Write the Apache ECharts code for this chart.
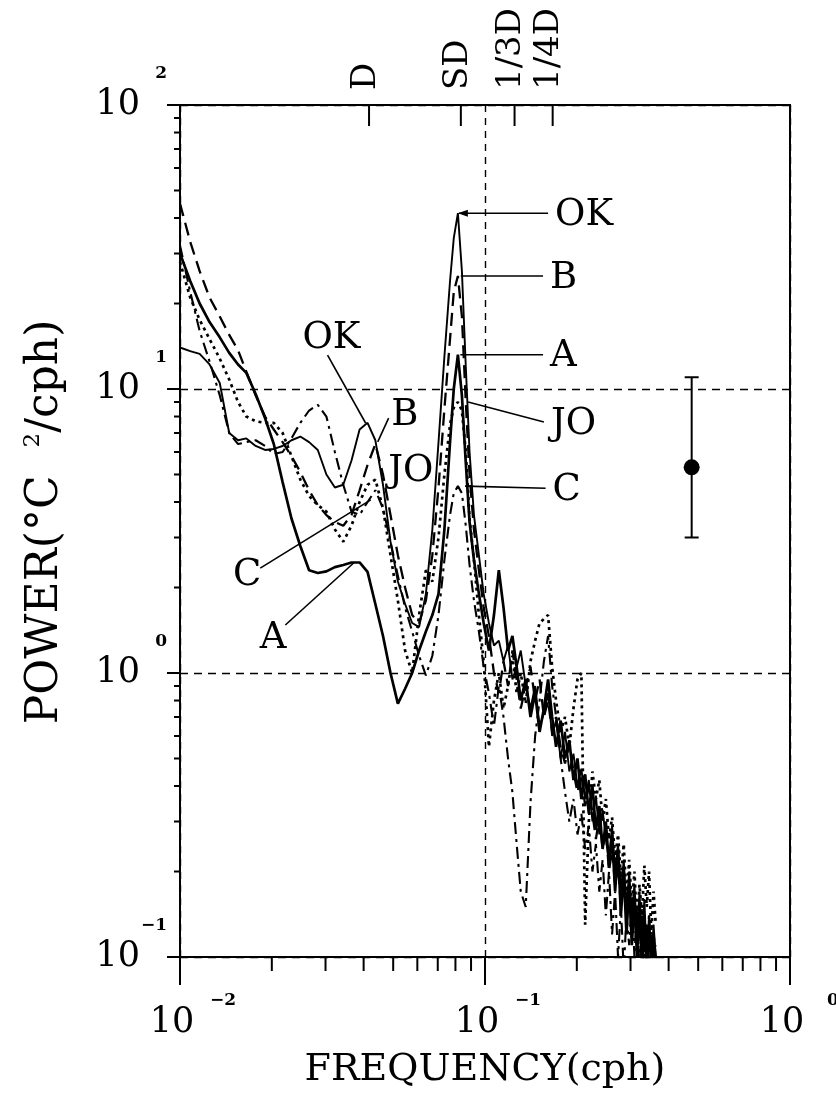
<!DOCTYPE html>
<html>
<head>
<meta charset="utf-8">
<script src="https://cdn.jsdelivr.net/npm/echarts@6/dist/echarts.min.js"></script>
<style>
  html, body { margin: 0; padding: 0; background: #ffffff; }
  #chart { width: 836px; height: 1099px; }
</style>
</head>
<body>
<div id="chart"></div>
<script>
// Frequency grid (cph) shared by all five temperature spectra
const frequency = [
  0.0100, 0.0108, 0.0116, 0.0125, 0.0135, 0.0145, 0.0155, 0.0165, 0.0177, 0.0190,
  0.0203, 0.0217, 0.0232, 0.0248, 0.0265, 0.0283, 0.0302, 0.0322, 0.0343, 0.0365,
  0.0388, 0.0412, 0.0437, 0.0463, 0.0490, 0.0518, 0.0547, 0.0577, 0.0608, 0.0640,
  0.0672, 0.0704, 0.0736, 0.0768, 0.0790, 0.0815, 0.0840, 0.0865, 0.0890, 0.0920,
  0.0955, 0.0990, 0.103, 0.107, 0.111, 0.115, 0.119, 0.123, 0.127, 0.131,
  0.136, 0.141, 0.146, 0.151, 0.156, 0.161, 0.166, 0.171, 0.177, 0.183,
  0.189, 0.195, 0.201, 0.207, 0.213, 0.219, 0.225, 0.231, 0.237, 0.243,
  0.249, 0.255, 0.261, 0.267, 0.273, 0.279, 0.285, 0.291, 0.297, 0.303,
  0.309, 0.315, 0.321, 0.327, 0.333, 0.339, 0.345, 0.351, 0.357, 0.363
];

// Power spectral density (°C²/cph) at each station
const powerOK = [
  14, 13.6, 13.3, 12.2, 10.5, 7.0, 6.6, 6.7, 6.3, 6.1,
  6.15, 6.3, 6.6, 6.8, 6.5, 6.1, 5.0, 4.5, 4.6, 5.6,
  7.2, 7.6, 6.6, 4.6, 2.9, 2.1, 1.75, 1.5, 1.45, 1.9,
  3.2, 6.5, 13, 24, 34, 41.6, 26, 12, 6, 3.6,
  2.6, 1.9, 1.5, 1.25, 1.3, 1.1, 1.25, 0.95, 1.05, 1.2,
  0.9, 0.75, 0.9, 0.65, 0.72, 0.85, 0.6, 0.68, 0.5, 0.62,
  0.45, 0.52, 0.4, 0.46, 0.36, 0.42, 0.3, 0.37, 0.27, 0.33,
  0.26, 0.22, 0.29, 0.2, 0.25, 0.17, 0.22, 0.15, 0.2, 0.14,
  0.18, 0.12, 0.17, 0.11, 0.16, 0.1, 0.14, 0.095, 0.13, 0.1
];
const powerB = [
  45, 33, 26, 21, 18, 15.5, 13.7, 11.5, 9.5, 8.0,
  7.2, 6.5, 5.8, 5.1, 4.4, 3.9, 3.6, 3.4, 3.3, 3.6,
  4.4, 5.4, 6.4, 5.0, 3.6, 2.6, 2.0, 1.6, 1.5, 1.8,
  2.6, 4.5, 8.5, 15, 22, 25, 18, 9, 5, 3.2,
  2.3, 1.7, 1.35, 1.0, 0.85, 1.1, 0.9, 1.2, 0.95, 0.75,
  0.9, 1.05, 0.8, 0.95, 0.7, 0.8, 0.62, 0.7, 0.55, 0.48,
  0.56, 0.45, 0.38, 0.44, 0.34, 0.4, 0.32, 0.26, 0.31, 0.24,
  0.28, 0.2, 0.24, 0.18, 0.21, 0.15, 0.19, 0.14, 0.17, 0.12,
  0.16, 0.11, 0.15, 0.1, 0.13, 0.11, 0.14, 0.1, 0.12, 0.1
];
const powerA = [
  30, 24, 20, 17.2, 15.2, 13.4, 12.2, 11.4, 9.6, 7.9,
  6.4, 4.7, 3.5, 2.8, 2.3, 2.25, 2.28, 2.36, 2.4, 2.45,
  2.45, 2.27, 1.75, 1.35, 1.0, 0.78, 0.88, 1.0, 1.2, 1.4,
  1.6, 1.9, 3.2, 6.5, 10, 13.2, 9.5, 5.5, 3.4, 2.5,
  1.9, 1.5, 1.2, 1.6, 2.3, 1.7, 1.2, 1.35, 1.05, 0.8,
  0.95, 0.7, 0.85, 0.62, 0.75, 0.95, 0.7, 0.55, 0.68, 0.5,
  0.58, 0.42, 0.5, 0.36, 0.44, 0.32, 0.4, 0.28, 0.34, 0.24,
  0.3, 0.21, 0.27, 0.17, 0.24, 0.14, 0.2, 0.12, 0.18, 0.11,
  0.16, 0.1, 0.15, 0.09, 0.14, 0.09, 0.13, 0.09, 0.12, 0.09
];
const powerJO = [
  28, 21, 17.5, 15, 12.8, 10.8, 9.0, 8.0, 7.7, 7.6,
  7.6, 7.0, 5.8, 4.8, 4.2, 3.9, 3.7, 3.2, 2.9, 3.3,
  4.0, 4.6, 4.8, 3.8, 2.6, 1.8, 1.2, 1.0, 1.6, 2.3,
  2.1, 3.0, 5.0, 7.5, 8.6, 9.0, 8.4, 6.0, 3.5, 2.5,
  1.6, 1.1, 0.55, 0.8, 1.0, 0.75, 0.9, 1.15, 0.85, 1.0,
  0.78, 1.1, 1.3, 1.5, 1.55, 1.6, 1.05, 0.8, 0.62, 0.7,
  0.55, 0.75, 0.95, 1.0, 0.13, 0.3, 0.45, 0.36, 0.42, 0.3,
  0.36, 0.26, 0.31, 0.22, 0.27, 0.19, 0.25, 0.16, 0.22, 0.15,
  0.2, 0.13, 0.18, 0.14, 0.21, 0.15, 0.2, 0.12, 0.17, 0.13
];
const powerC = [
  32, 22, 16, 12.5, 9.5, 7.0, 6.4, 6.5, 6.6, 6.3,
  5.9, 6.0, 6.7, 7.6, 8.4, 8.8, 8.0, 6.0, 4.6, 3.7,
  3.6, 4.0, 4.4, 3.8, 2.9, 2.2, 1.7, 1.4, 1.15, 0.98,
  1.15, 1.6, 2.5, 3.6, 4.3, 4.55, 4.3, 3.3, 2.4, 1.8,
  1.4, 1.05, 0.85, 0.65, 0.9, 0.7, 0.5, 0.38, 0.25, 0.17,
  0.15, 0.35, 0.6, 0.8, 1.1, 1.35, 0.9, 0.7, 0.5, 0.38,
  0.3, 0.36, 0.27, 0.32, 0.24, 0.29, 0.2, 0.25, 0.17, 0.22,
  0.14, 0.2, 0.12, 0.17, 0.1, 0.15, 0.09, 0.14, 0.11, 0.16,
  0.1, 0.15, 0.09, 0.14, 0.1, 0.13, 0.09, 0.12, 0.1, 0.11
];

// Axis decades and tidal reference frequencies (1/24, 1/12, 1/8, 1/6 cph)
const xTickValues = [0.01, 0.1, 1];
const yTickValues = [0.1, 1, 10, 100];
const tidalFrequencies = [1 / 24, 1 / 12, 1 / 8, 1 / 6];
const tidalLabels = ['D', 'SD', '1/3D', '1/4D'];

// Confidence interval: frequency, lower, estimate, upper
const errorBarFreq = 0.476;
const errorBarLow = 3.0;
const errorBarMid = 5.3;
const errorBarHigh = 11.0;

// Station labels: leader line (from -> to) in data coordinates
const peakLabels = [
  { name: 'OK', from: [0.0821, 41.6], to: [0.161, 41.6], arrow: true },
  { name: 'B',  from: [0.0833, 25.0], to: [0.155, 25.0] },
  { name: 'A',  from: [0.0830, 13.2], to: [0.155, 13.2] },
  { name: 'JO', from: [0.0880, 9.0],  to: [0.156, 7.65] },
  { name: 'C',  from: [0.0860, 4.55], to: [0.158, 4.47] }
];
const diurnalLabels = [
  { name: 'OK', at: [0.03138, 15.1], from: [0.03046, 13.17], to: [0.0406, 7.59] },
  { name: 'B',  at: [0.0546, 8.1],   from: [0.0483, 7.9],    to: [0.0445, 6.51] },
  { name: 'JO', at: [0.0571, 5.14] },
  { name: 'C',  at: [0.0166, 2.21],  from: [0.01833, 2.34],  to: [0.0422, 4.07] },
  { name: 'A',  at: [0.0202, 1.328], from: [0.02215, 1.476], to: [0.0371, 2.44] }
];

const BLACK = '#000000';
const SERIF = '"DejaVu Serif", "Liberation Serif", serif';

const pairs = (ys) => frequency.map((f, i) => [f, ys[i]]);
const curve = (name, ys, width, dash) => ({
  name, type: 'line', data: pairs(ys), showSymbol: false, symbol: 'none',
  clip: true, silent: true, z: 3,
  lineStyle: { color: BLACK, width, type: dash }
});

const option = {
  animation: false,
  backgroundColor: '#ffffff',
  grid: {
    left: 180, right: 46, top: 105, bottom: 142,
    show: true, borderColor: BLACK, borderWidth: 2, backgroundColor: 'transparent'
  },
  xAxis: {
    type: 'log', logBase: 10, min: 0.01, max: 1,
    axisLine: { show: true, lineStyle: { color: BLACK, width: 2 } },
    axisTick: { show: true, length: 28, lineStyle: { color: BLACK, width: 2 } },
    axisLabel: { show: false },
    splitLine: { show: true, lineStyle: { color: BLACK, width: 1.4, type: [7, 6] } },
    minorTick: { show: false }
  },
  yAxis: {
    type: 'log', logBase: 10, min: 0.1, max: 100,
    axisLine: { show: true, lineStyle: { color: BLACK, width: 2 } },
    axisTick: { show: true, length: 13, lineStyle: { color: BLACK, width: 2 } },
    axisLabel: { show: false },
    splitLine: { show: true, lineStyle: { color: BLACK, width: 1.4, type: [8, 6] } },
    minorTick: { show: false }
  },
  series: [
    curve('OK', powerOK, 1.9, 'solid'),
    curve('B', powerB, 2.3, [13, 7]),
    curve('A', powerA, 2.7, 'solid'),
    curve('JO', powerJO, 2.7, [3, 4]),
    curve('C', powerC, 2.1, [12, 5, 3, 5]),
    {
      name: 'confidence', type: 'custom', silent: true, z: 4,
      encode: { x: 0, y: [1, 2, 3] },
      data: [[errorBarFreq, errorBarLow, errorBarMid, errorBarHigh]],
      renderItem: (params, api) => {
        const lo = api.coord([api.value(0), api.value(1)]);
        const mid = api.coord([api.value(0), api.value(2)]);
        const hi = api.coord([api.value(0), api.value(3)]);
        const st = { stroke: BLACK, lineWidth: 2 };
        return {
          type: 'group',
          children: [
            { type: 'line', shape: { x1: lo[0], y1: lo[1], x2: hi[0], y2: hi[1] }, style: st },
            { type: 'line', shape: { x1: lo[0] - 7, y1: lo[1], x2: lo[0] + 7, y2: lo[1] }, style: st },
            { type: 'line', shape: { x1: hi[0] - 7, y1: hi[1], x2: hi[0] + 7, y2: hi[1] }, style: st },
            { type: 'circle', shape: { cx: mid[0], cy: mid[1], r: 8 }, style: { fill: BLACK } }
          ]
        };
      }
    }
  ]
};

const chart = echarts.init(document.getElementById('chart'), null, { renderer: 'canvas' });
chart.setOption(option);

const toPx = (f, p) => chart.convertToPixel({ xAxisIndex: 0, yAxisIndex: 0 }, [f, p]);
const plotLeft = toPx(0.01, 1)[0];
const plotRight = toPx(1, 1)[0];
const plotTop = toPx(0.01, 100)[1];
const plotBottom = toPx(0.01, 0.1)[1];

const g = [];
const seg = (x1, y1, x2, y2, w) => g.push({
  type: 'line', silent: true, z: 10,
  shape: { x1, y1, x2, y2 }, style: { stroke: BLACK, lineWidth: w || 2 }
});
const txt = (text, x, y, size, align, vAlign) => g.push({
  type: 'text', silent: true, z: 10, x, y,
  style: {
    text, fill: BLACK, font: size + 'px ' + SERIF,
    align: align || 'center', verticalAlign: vAlign || 'middle'
  }
});

// Minor ticks at 2..9 within each decade
for (let k = -1; k <= 1; k++) {
  for (let m = 2; m <= 9; m++) {
    const y = toPx(0.01, m * Math.pow(10, k))[1];
    seg(plotLeft - 6, y, plotLeft, y, 2);
  }
}
for (let k = -2; k <= -1; k++) {
  for (let m = 2; m <= 9; m++) {
    const x = toPx(m * Math.pow(10, k), 0.1)[0];
    seg(x, plotBottom, x, plotBottom + 14, 2);
  }
}

const expText = (v) => {
  const e = Math.round(Math.log10(v));
  return e < 0 ? '\u2212' + (-e) : String(e);
};

// Power-of-ten tick labels
yTickValues.forEach((v) => {
  const y = toPx(0.01, v)[1];
  txt('10', plotLeft - 40, y, 35, 'right', 'middle');
  g.push({
    type: 'text', silent: true, z: 10, x: plotLeft - 13, y: y - 31,
    style: { text: expText(v), fill: BLACK, font: 'bold 17px ' + SERIF, align: 'right', verticalAlign: 'middle' }
  });
});
xTickValues.forEach((v) => {
  const x = toPx(v, 0.1)[0];
  txt('10', x - 8, plotBottom + 66, 35, 'center', 'middle');
  g.push({
    type: 'text', silent: true, z: 10, x: x + 43, y: plotBottom + 44,
    style: { text: expText(v), fill: BLACK, font: 'bold 17px ' + SERIF, align: 'center', verticalAlign: 'middle' }
  });
});

// Tidal frequency ticks along the top edge
tidalFrequencies.forEach((f, i) => {
  const x = toPx(f, 100)[0];
  seg(x, plotTop, x, plotTop + 21, 2);
  g.push({
    type: 'text', silent: true, z: 10, x: x - 3, y: plotTop - 15, rotation: Math.PI / 2,
    style: { text: tidalLabels[i], fill: BLACK, font: '34px ' + SERIF, align: 'left', verticalAlign: 'middle' }
  });
});

// Station labels next to the semidiurnal peaks
peakLabels.forEach((d) => {
  const a = toPx(d.from[0], d.from[1]);
  const b = toPx(d.to[0], d.to[1]);
  seg(a[0], a[1], b[0], b[1], 1.6);
  if (d.arrow) {
    g.push({
      type: 'polygon', silent: true, z: 10,
      shape: { points: [[a[0] - 1, a[1]], [a[0] + 9, a[1] - 3.5], [a[0] + 9, a[1] + 3.5]] },
      style: { fill: BLACK }
    });
  }
  txt(d.name, b[0] + 7, b[1] + 2, 37, 'left', 'middle');
});

// Station labels near the diurnal band
diurnalLabels.forEach((d) => {
  if (d.from) {
    const a = toPx(d.from[0], d.from[1]);
    const b = toPx(d.to[0], d.to[1]);
    seg(a[0], a[1], b[0], b[1], 1.6);
  }
  const p = toPx(d.at[0], d.at[1]);
  txt(d.name, p[0], p[1], 37, 'center', 'middle');
});

// Axis titles
txt('FREQUENCY(cph)', (plotLeft + plotRight) / 2, plotBottom + 113, 38, 'center', 'middle');
g.push({
  type: 'text', silent: true, z: 10, x: 46, y: (plotTop + plotBottom) / 2 - 9, rotation: Math.PI / 2,
  style: {
    text: 'POWER(\u00B0C  {s|2}/cph)', fill: BLACK, font: '44px ' + SERIF,
    align: 'center', verticalAlign: 'middle',
    rich: {
      s: { fontSize: 23, fontFamily: SERIF, fill: BLACK, verticalAlign: 'top', lineHeight: 48 }
    },
    lineHeight: 48
  }
});

chart.setOption({ graphic: { elements: g } });
</script>
</body>
</html>
